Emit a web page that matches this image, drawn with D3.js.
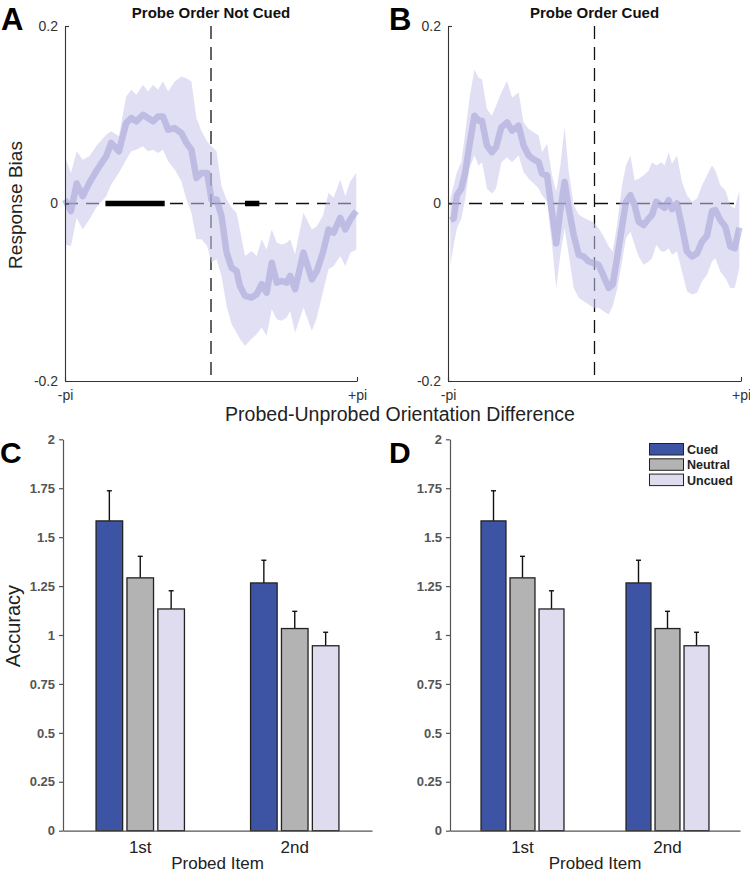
<!DOCTYPE html>
<html><head><meta charset="utf-8">
<script src="https://cdn.jsdelivr.net/npm/d3@7/dist/d3.min.js"></script>
<style>
body{margin:0;background:#fff;}
svg{display:block;font-family:"Liberation Sans",Arial,Helvetica,sans-serif;}
</style></head>
<body><svg id="chart" width="750" height="873"></svg>
<script>
// ---------- Data: response bias curves (x in units of pi) ----------
const xA = [-1.000,-0.959,-0.920,-0.879,-0.833,-0.787,-0.718,-0.684,-0.631,-0.581,-0.546,-0.512,-0.466,-0.432,-0.397,-0.363,-0.329,-0.294,-0.249,-0.203,-0.168,-0.134,-0.100,-0.065,-0.026,0.003,0.038,0.072,0.107,0.141,0.175,0.198,0.233,0.278,0.313,0.347,0.381,0.416,0.450,0.485,0.519,0.542,0.576,0.633,0.691,0.725,0.766,0.805,0.840,0.885,0.920,0.954,0.995];
const meanA = [0.0045,-0.0086,0.0225,0.0082,0.0232,0.0363,0.0532,0.0682,0.0588,0.0906,0.0963,0.0925,0.1000,0.0963,0.0925,0.0981,0.0981,0.0831,0.0850,0.0794,0.0682,0.0607,0.0288,0.0345,0.0345,0.0045,0.0045,-0.0142,-0.0554,-0.0723,-0.0760,-0.0929,-0.1041,-0.1060,-0.1022,-0.0910,-0.1004,-0.0667,-0.0891,-0.0873,-0.0891,-0.0816,-0.0966,-0.0554,-0.0854,-0.0760,-0.0554,-0.0292,-0.0330,-0.0161,-0.0292,-0.0180,-0.0086];
const upperA = [0.0530,0.0345,0.0588,0.0494,0.0532,0.0644,0.0775,0.0813,0.0757,0.1206,0.1281,0.1225,0.1337,0.1262,0.1337,0.1281,0.1375,0.1262,0.1375,0.1431,0.1412,0.1375,0.0963,0.0813,0.0700,0.0644,0.0588,0.0195,0.0045,-0.0049,-0.0105,-0.0292,-0.0592,-0.0536,-0.0592,-0.0404,-0.0517,-0.0292,-0.0442,-0.0461,-0.0442,-0.0404,-0.0573,-0.0105,-0.0292,-0.0255,-0.0142,0.0120,0.0064,0.0270,0.0082,0.0251,0.0345];
const lowerA = [-0.0461,-0.0479,-0.0161,-0.0292,-0.0180,-0.0049,0.0082,0.0213,0.0345,0.0494,0.0588,0.0607,0.0644,0.0588,0.0607,0.0569,0.0607,0.0476,0.0382,0.0251,0.0045,-0.0105,-0.0404,-0.0404,-0.0479,-0.0667,-0.0629,-0.0816,-0.1154,-0.1360,-0.1453,-0.1528,-0.1603,-0.1528,-0.1472,-0.1397,-0.1491,-0.1191,-0.1303,-0.1322,-0.1285,-0.1210,-0.1453,-0.1172,-0.1434,-0.1285,-0.1004,-0.0742,-0.0704,-0.0592,-0.0704,-0.0554,-0.0517];
const sigA = [[-0.723,-0.317],[0.233,0.331]];

const xB = [-0.984,-0.961,-0.939,-0.909,-0.882,-0.854,-0.820,-0.791,-0.768,-0.734,-0.700,-0.672,-0.636,-0.597,-0.563,-0.518,-0.484,-0.449,-0.415,-0.381,-0.358,-0.324,-0.290,-0.261,-0.233,-0.204,-0.176,-0.142,-0.108,-0.074,-0.040,-0.006,0.028,0.063,0.097,0.124,0.154,0.188,0.215,0.245,0.274,0.302,0.336,0.370,0.392,0.422,0.456,0.479,0.506,0.529,0.563,0.597,0.631,0.666,0.700,0.734,0.768,0.802,0.825,0.859,0.893,0.927,0.957,0.989];
const meanB = [-0.0187,-0.0168,0.0093,0.0168,0.0354,0.0653,0.0989,0.0933,0.0933,0.0653,0.0578,0.0634,0.0858,0.0914,0.0821,0.0877,0.0653,0.0541,0.0496,0.0466,0.0336,0.0317,-0.0093,-0.0448,-0.0075,0.0243,-0.0056,-0.0354,-0.0578,-0.0597,-0.0653,-0.0672,-0.0690,-0.0821,-0.0951,-0.0914,-0.0616,-0.0261,0.0019,0.0093,-0.0019,-0.0205,-0.0243,-0.0168,-0.0131,0.0019,-0.0026,-0.0049,0.0037,-0.0063,0.0000,-0.0261,-0.0541,-0.0597,-0.0560,-0.0429,-0.0362,-0.0086,-0.0075,-0.0187,-0.0261,-0.0485,-0.0504,-0.0272];
const upperB = [0.0056,0.0205,0.0354,0.0466,0.0802,0.1175,0.1511,0.1418,0.1399,0.1063,0.0989,0.1101,0.1250,0.1381,0.1194,0.1250,0.0914,0.0840,0.0802,0.0765,0.0578,0.0672,0.0317,0.0131,0.0429,0.0858,0.0354,-0.0019,-0.0123,-0.0160,-0.0187,-0.0213,-0.0280,-0.0373,-0.0485,-0.0541,-0.0243,0.0205,0.0429,0.0541,0.0261,0.0280,0.0317,0.0373,0.0466,0.0429,0.0466,0.0429,0.0578,0.0448,0.0541,0.0243,0.0093,0.0019,0.0056,0.0205,0.0317,0.0429,0.0373,0.0205,0.0149,-0.0019,-0.0056,0.0149];
const lowerB = [-0.0690,-0.0466,-0.0280,-0.0168,0.0056,0.0392,0.0541,0.0429,0.0466,0.0168,0.0112,0.0168,0.0466,0.0522,0.0466,0.0541,0.0354,0.0280,0.0224,0.0168,0.0093,0.0019,-0.0466,-0.0951,-0.0578,-0.0280,-0.0578,-0.0951,-0.1063,-0.1101,-0.1138,-0.1175,-0.1175,-0.1213,-0.1250,-0.1157,-0.0970,-0.0653,-0.0392,-0.0317,-0.0466,-0.0597,-0.0690,-0.0653,-0.0616,-0.0466,-0.0541,-0.0541,-0.0504,-0.0578,-0.0541,-0.0765,-0.0989,-0.1026,-0.1007,-0.0877,-0.0802,-0.0653,-0.0616,-0.0765,-0.0840,-0.0951,-0.0951,-0.0728];

const biasTicks = [-0.2, 0, 0.2];
const biasTickLabels = ["-0.2", "0", "0.2"];
const angleTicks = [-1, 1];
const angleTickLabels = ["-pi", "+pi"];

// ---------- Data: accuracy bars ----------
const groups = ["1st", "2nd"];
const seriesNames = ["Cued", "Neutral", "Uncued"];
const accCued = [1.583, 1.266];
const accNeutral = [1.292, 1.033];
const accUncued = [1.133, 0.945];
const semCued = [0.154, 0.116];
const semNeutral = [0.110, 0.088];
const semUncued = [0.093, 0.069];
const accTicks = [0, 0.25, 0.5, 0.75, 1, 1.25, 1.5, 1.75, 2];
const accTickLabels = ["0", "0.25", "0.5", "0.75", "1", "1.25", "1.5", "1.75", "2"];

const seriesColors = ["#3d54a5", "#b3b3b3", "#dedcee"];

const svg = d3.select("#chart");

// ---------- Line panels ----------
function linePanel(opt) {
  const x = d3.scaleLinear().domain([-1, 1]).range([opt.x0, opt.x1]);
  const y = d3.scaleLinear().domain([-0.2, 0.2]).range([381, 26]);
  const g = svg.append("g");
  const pts = opt.xs.map((v, i) => ({x: v, m: opt.mean[i], lo: opt.lower[i], hi: opt.upper[i]}));

  g.append("line").attr("x1", x(-1)).attr("x2", x(1)).attr("y1", y(0)).attr("y2", y(0))
    .attr("stroke", "#111").attr("stroke-width", 1.3).attr("stroke-dasharray", "13,8");
  g.append("line").attr("x1", x(0)).attr("x2", x(0)).attr("y1", y(0.2)).attr("y2", y(-0.2))
    .attr("stroke", "#111").attr("stroke-width", 1.3).attr("stroke-dasharray", "13,8");

  g.append("path").datum(pts)
    .attr("d", d3.area().x(d => x(d.x)).y0(d => y(d.lo)).y1(d => y(d.hi)))
    .attr("fill", "#c8c5ea").attr("fill-opacity", 0.55);
  g.append("path").datum(pts)
    .attr("d", d3.line().x(d => x(d.x)).y(d => y(d.m)))
    .attr("fill", "none").attr("stroke", "#a9a5d9").attr("stroke-opacity", 0.6)
    .attr("stroke-width", 6.5).attr("stroke-linejoin", "round");

  (opt.sig || []).forEach(s => {
    g.append("line").attr("x1", x(s[0])).attr("x2", x(s[1])).attr("y1", y(0)).attr("y2", y(0))
      .attr("stroke", "#000").attr("stroke-width", 5.5);
  });

  const ay = g.append("g").attr("transform", `translate(${opt.x0},0)`)
    .call(d3.axisLeft(y).tickValues(biasTicks).tickSizeInner(-4).tickSizeOuter(0).tickPadding(7)
      .tickFormat((d, i) => biasTickLabels[i]));
  const ax = g.append("g").attr("transform", `translate(0,381)`)
    .call(d3.axisBottom(x).tickValues(angleTicks).tickSizeInner(-4).tickSizeOuter(0).tickPadding(9)
      .tickFormat((d, i) => angleTickLabels[i]));
  [ay, ax].forEach(a => {
    a.selectAll("path,line").attr("stroke", "#333").attr("stroke-width", 1.1);
    a.selectAll("text").attr("fill", "#333").attr("font-size", 14);
  });

  g.append("text").attr("x", x(0)).attr("y", 17.5).attr("text-anchor", "middle")
    .attr("font-weight", "bold").attr("font-size", 15).attr("fill", "#111").text(opt.title);
  g.append("text").attr("x", opt.labelX).attr("y", 30).attr("font-weight", "bold")
    .attr("font-size", 31).attr("fill", "#000").text(opt.label);
}

linePanel({x0: 65, x1: 357, xs: xA, mean: meanA, upper: upperA, lower: lowerA, sig: sigA,
  title: "Probe Order Not Cued", label: "A", labelX: 1});
linePanel({x0: 448, x1: 741, xs: xB, mean: meanB, upper: upperB, lower: lowerB, sig: [],
  title: "Probe Order Cued", label: "B", labelX: 389});

svg.append("text").attr("transform", "translate(21.5,205) rotate(-90)").attr("text-anchor", "middle")
  .attr("font-size", 19).attr("fill", "#222").text("Response Bias");
svg.append("text").attr("x", 400).attr("y", 421).attr("text-anchor", "middle")
  .attr("font-size", 19.5).attr("fill", "#222").text("Probed-Unprobed Orientation Difference");

// ---------- Bar panels ----------
function barPanel(opt) {
  const y = d3.scaleLinear().domain([0, 2]).range([830.7, 439.3]);
  const xg = d3.scaleBand().domain(groups).range([opt.x0, opt.x1]).paddingInner(0).paddingOuter(0);
  const W = opt.x1 - opt.x0;
  const xs = d3.scaleBand().domain(seriesNames).range([0, 0.3 * W]).paddingInner(0.14).paddingOuter(0.07);
  const off = (xg.bandwidth() - 0.3 * W) / 2;
  const vals = [accCued, accNeutral, accUncued];
  const sems = [semCued, semNeutral, semUncued];
  const g = svg.append("g");

  seriesNames.forEach((s, si) => {
    groups.forEach((gr, gi) => {
      const bx = xg(gr) + off + xs(s);
      const v = vals[si][gi], e = sems[si][gi];
      const cx = bx + xs.bandwidth() / 2;
      g.append("line").attr("x1", cx).attr("x2", cx).attr("y1", y(v)).attr("y2", y(v + e))
        .attr("stroke", "#111").attr("stroke-width", 1.4);
      g.append("line").attr("x1", cx - 2.5).attr("x2", cx + 2.5).attr("y1", y(v + e)).attr("y2", y(v + e))
        .attr("stroke", "#111").attr("stroke-width", 1.4);
      g.append("rect").attr("x", bx).attr("y", y(v)).attr("width", xs.bandwidth())
        .attr("height", y(0) - y(v)).attr("fill", seriesColors[si])
        .attr("stroke", "#222").attr("stroke-width", 1.3);
    });
  });

  const ay = g.append("g").attr("transform", `translate(${opt.x0},0)`)
    .call(d3.axisLeft(y).tickValues(accTicks).tickSizeInner(4).tickSizeOuter(0).tickPadding(4)
      .tickFormat((d, i) => accTickLabels[i]));
  ay.selectAll("path,line").attr("stroke", "#555").attr("stroke-width", 1.2);
  ay.selectAll("text").attr("fill", "#555").attr("font-size", 13).attr("font-weight", "bold");

  const ax = g.append("g").attr("transform", `translate(0,830.7)`)
    .call(d3.axisBottom(xg).tickSize(0).tickPadding(10));
  ax.select("path").attr("stroke", "#555").attr("stroke-width", 1.2);
  ax.selectAll("text").attr("fill", "#222").attr("font-size", 17);

  g.append("text").attr("x", (opt.x0 + opt.x1) / 2).attr("y", 869).attr("text-anchor", "middle")
    .attr("font-size", 17).attr("fill", "#222").text("Probed Item");
  g.append("text").attr("x", opt.labelX).attr("y", 463).attr("font-weight", "bold")
    .attr("font-size", 30).attr("fill", "#000").text(opt.label);

  if (opt.legend) {
    seriesNames.forEach((s, i) => {
      const ly = 443.5 + i * 15.3;
      g.append("rect").attr("x", 649.5).attr("y", ly).attr("width", 34).attr("height", 11.5)
        .attr("fill", seriesColors[i]).attr("stroke", "#222").attr("stroke-width", 1);
      g.append("text").attr("x", 687).attr("y", ly + 10.5).attr("font-size", 12.5)
        .attr("font-weight", "bold").attr("fill", "#222").text(s);
    });
  }
}

barPanel({x0: 63, x1: 372, label: "C", labelX: 0, legend: false});
barPanel({x0: 450, x1: 740, label: "D", labelX: 389, legend: true});

svg.append("text").attr("transform", "translate(19.5,626) rotate(-90)").attr("text-anchor", "middle")
  .attr("font-size", 20).attr("fill", "#222").text("Accuracy");
</script>
</body></html>
